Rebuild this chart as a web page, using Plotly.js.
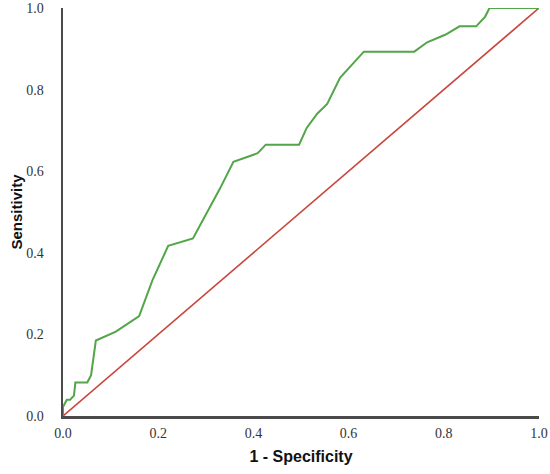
<!DOCTYPE html>
<html>
<head>
<meta charset="utf-8">
<script src="https://cdn.plot.ly/plotly-3.0.1.min.js"></script>
<style>html,body{margin:0;padding:0;background:#fff}#chart{width:550px;height:474px}</style>
</head>
<body>
<div id="chart"></div>
<script>
// ROC curve (1 - specificity, sensitivity)
var fpr = [0, 0, 0.008, 0.015, 0.023, 0.026, 0.051, 0.059, 0.069, 0.111, 0.16, 0.188, 0.221, 0.273, 0.33, 0.358, 0.409, 0.426, 0.496, 0.512, 0.534, 0.555, 0.582, 0.632, 0.738, 0.765, 0.804, 0.833, 0.868, 0.887, 0.896, 1.0];
var tpr = [0, 0.022, 0.04, 0.04, 0.05, 0.082, 0.082, 0.10, 0.185, 0.207, 0.245, 0.333, 0.417, 0.435, 0.558, 0.623, 0.644, 0.665, 0.665, 0.706, 0.741, 0.765, 0.829, 0.893, 0.893, 0.916, 0.935, 0.955, 0.955, 0.979, 1.0, 1.0];
// reference line
var refX = [0, 1];
var refY = [0, 1];
var tickVals = [0, 0.2, 0.4, 0.6, 0.8, 1.0];
var tickText = ["0.0", "0.2", "0.4", "0.6", "0.8", "1.0"];

var traces = [
  {x: refX, y: refY, type: 'scatter', mode: 'lines', line: {color: '#c8463c', width: 1.6}, hoverinfo: 'skip'},
  {x: fpr, y: tpr, type: 'scatter', mode: 'lines', line: {color: '#52a548', width: 2}, hoverinfo: 'skip'}
];

var tickFont = {family: '"Liberation Serif", "DejaVu Serif", serif', size: 14, color: '#333'};
var layout = {
  width: 550, height: 474,
  margin: {l: 63, r: 11, t: 8, b: 58},
  paper_bgcolor: '#fff', plot_bgcolor: '#fff',
  showlegend: false,
  xaxis: {
    range: [0, 1], tickvals: tickVals, ticktext: tickText,
    showgrid: false, zeroline: false, showline: true, linecolor: '#4a4a4a', linewidth: 2.5,
    ticks: '', ticklabelstandoff: 3, tickfont: tickFont,
    title: {text: '1 - Specificity', standoff: 11, font: {family: 'Liberation Sans, Arial, sans-serif', size: 16, color: '#111', weight: 'bold'}}
  },
  yaxis: {
    range: [0, 1], tickvals: tickVals, ticktext: tickText,
    showgrid: false, zeroline: false, showline: true, linecolor: '#4a4a4a', linewidth: 2.5,
    ticks: '', ticklabelstandoff: 14, tickfont: tickFont,
    title: {text: 'Sensitivity', standoff: 0, font: {family: '"Liberation Sans Narrow", "Liberation Sans", Arial, sans-serif', size: 15, color: '#111', weight: 'bold'}}
  }
};
Plotly.newPlot('chart', traces, layout, {displayModeBar: false, staticPlot: true});
</script>
</body>
</html>
